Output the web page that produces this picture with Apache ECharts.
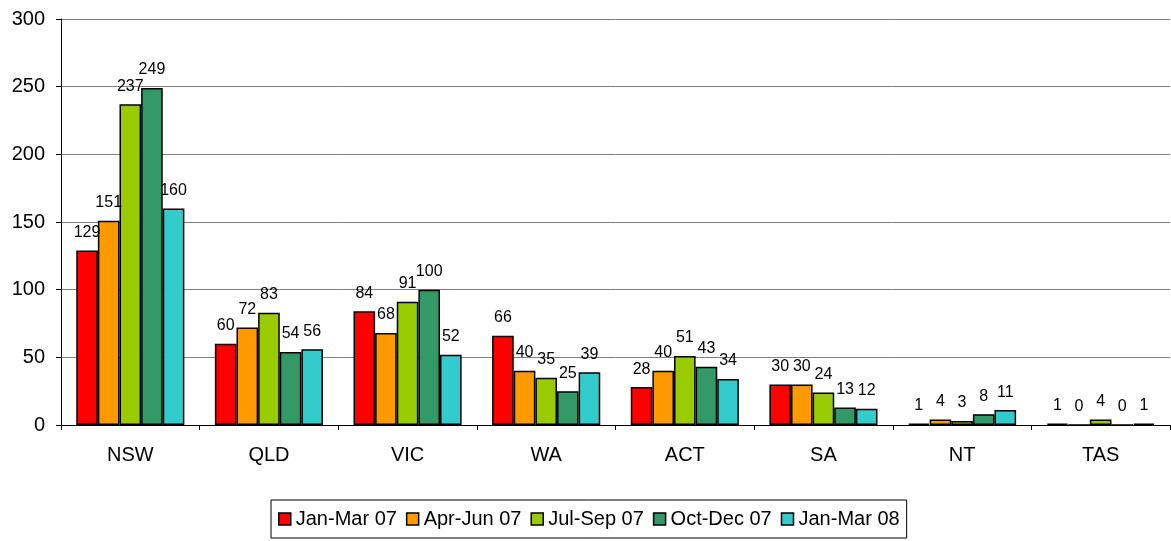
<!DOCTYPE html>
<html>
<head>
<meta charset="utf-8">
<script src="https://cdn.jsdelivr.net/npm/echarts@6/dist/echarts.min.js"></script>
<style>
  html, body { margin: 0; padding: 0; background: #fff; }
  #chart { width: 1171px; height: 541px; }
</style>
</head>
<body>
<div id="chart"></div>
<script>
// regions on the x axis
const categories = ['NSW', 'QLD', 'VIC', 'WA', 'ACT', 'SA', 'NT', 'TAS']
const seriesNames = ['Jan-Mar 07', 'Apr-Jun 07', 'Jul-Sep 07', 'Oct-Dec 07', 'Jan-Mar 08']
const colors = ['#ff0000', '#ff9900', '#99cc00', '#339966', '#33cccc']

const janMar07 = [129, 60, 84, 66, 28, 30, 1, 1]
const aprJun07 = [151, 72, 68, 40, 40, 30, 4, 0]
const julSep07 = [237, 83, 91, 35, 51, 24, 3, 4]
const octDec07 = [249, 54, 100, 25, 43, 13, 8, 0]
const janMar08 = [160, 56, 52, 39, 34, 12, 11, 1]

const seriesData = [janMar07, aprJun07, julSep07, octDec07, janMar08]

const font = 'Liberation Sans, Arial, sans-serif'

const chart = echarts.init(document.getElementById('chart'))

let series = seriesNames.map((name, i) => ({
  name: name,
  type: 'bar',
  data: seriesData[i],
  barGap: '0%',
  barCategoryGap: '22%',
  itemStyle: {
    color: colors[i],
    borderColor: '#000',
    borderWidth: 1.5
  },
  label: {
    show: true,
    position: 'top',
    distance: 10,
    color: '#000',
    fontFamily: font,
    fontSize: 16
  }
}))

let options = {
  animation: false,
  backgroundColor: '#fff',
  grid: {
    left: 61,
    right: 1,
    top: 19,
    bottom: 116
  },
  legend: {
    data: seriesNames,
    left: 271,
    top: 500,
    padding: [9, 7, 9, 7],
    borderColor: '#000',
    borderWidth: 1,
    itemWidth: 12,
    itemHeight: 12,
    itemGap: 9,
    icon: 'rect',
    itemStyle: { borderColor: '#000', borderWidth: 1.5 },
    textStyle: {
      color: '#000',
      fontFamily: font,
      fontSize: 20
    }
  },
  xAxis: {
    type: 'category',
    data: categories,
    axisLine: { lineStyle: { color: '#000', width: 1 } },
    axisTick: { show: true, length: 5, lineStyle: { color: '#000' } },
    axisLabel: {
      color: '#000',
      fontFamily: font,
      fontSize: 20,
      margin: 20
    }
  },
  yAxis: {
    type: 'value',
    min: 0,
    max: 300,
    interval: 50,
    axisLine: { show: true, lineStyle: { color: '#000', width: 1 } },
    axisTick: { show: true, length: 5, lineStyle: { color: '#000' } },
    splitLine: { lineStyle: { color: '#808080', width: 1 } },
    axisLabel: {
      color: '#000',
      fontFamily: font,
      fontSize: 20,
      margin: 16
    }
  },
  series: series
}

chart.setOption(options)
</script>
</body>
</html>
